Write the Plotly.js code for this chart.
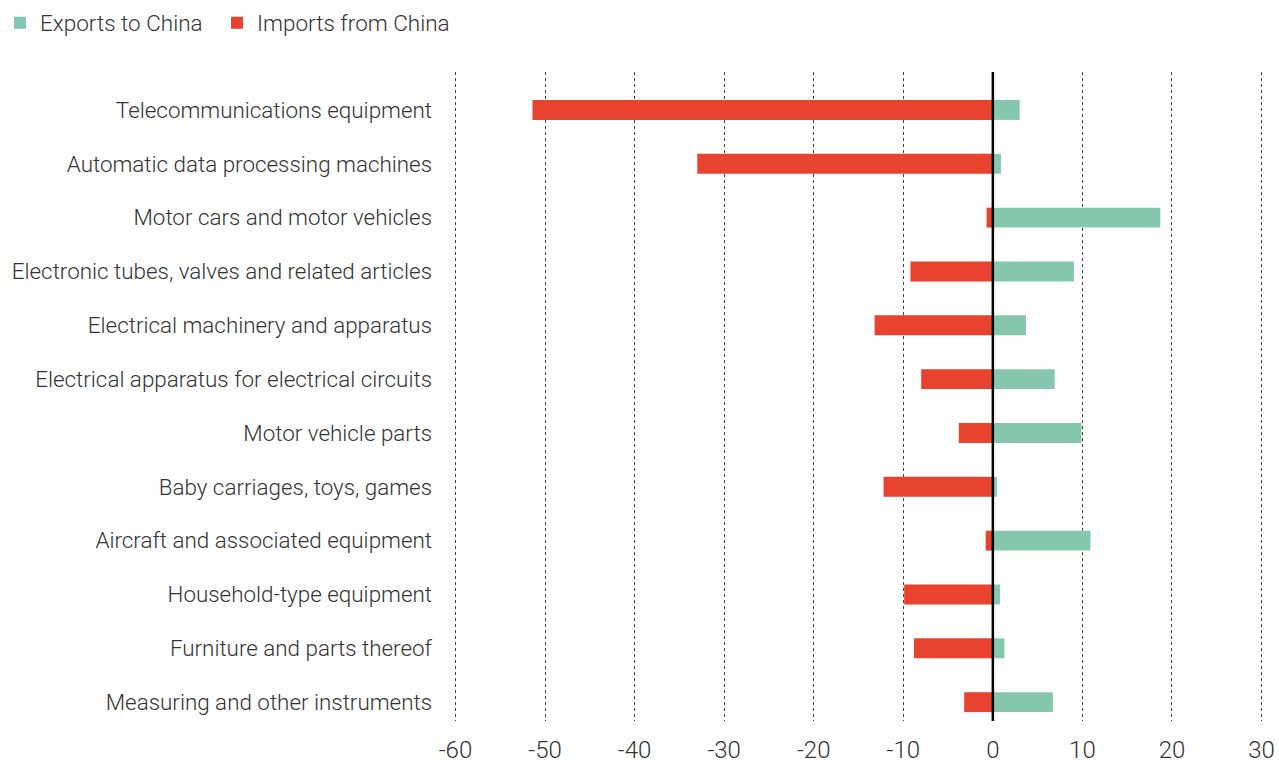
<!DOCTYPE html>
<html>
<head>
<meta charset="utf-8">
<script src="https://cdn.plot.ly/plotly-3.0.1.min.js"></script>
<style>html,body{margin:0;padding:0;background:#fff;}#chart{width:1279px;height:765px;}</style>
</head>
<body>
<div id="chart"></div>
<script>
const categories = [
  "Telecommunications equipment",
  "Automatic data processing machines",
  "Motor cars and motor vehicles",
  "Electronic tubes, valves and related articles",
  "Electrical machinery and apparatus",
  "Electrical apparatus for electrical circuits",
  "Motor vehicle parts",
  "Baby carriages, toys, games",
  "Aircraft and associated equipment",
  "Household-type equipment",
  "Furniture and parts thereof",
  "Measuring and other instruments"
];
const exportsToChina = [3.0, 0.9, 18.7, 9.05, 3.7, 6.9, 9.9, 0.45, 10.9, 0.8, 1.3, 6.7];
const importsFromChina = [-51.4, -33.0, -0.7, -9.2, -13.2, -8.0, -3.8, -12.2, -0.8, -9.9, -8.8, -3.2];
const xTicks = [-60, -50, -40, -30, -20, -10, 0, 10, 20, 30];

const FONT = "Roboto, 'DejaVu Sans', sans-serif";
const legendFont = {family: FONT, size: 22.5, color: "#333", weight: 300};
const traces = [
  {type: "bar", orientation: "h", name: "Exports to China", y: categories, x: exportsToChina,
   marker: {color: "#85C7AD"}, width: 0.37, hoverinfo: "x+y", legend: "legend"},
  {type: "bar", orientation: "h", name: "Imports from China", y: categories, x: importsFromChina,
   marker: {color: "#E8432E"}, width: 0.37, hoverinfo: "x+y", legend: "legend2"}
];
const layout = {
  width: 1279, height: 765,
  margin: {l: 451, r: 13, t: 72, b: 44, pad: 0},
  paper_bgcolor: "#fff", plot_bgcolor: "#fff",
  barmode: "overlay",
  font: {family: FONT, color: "#333", size: 22, weight: 300},
  showlegend: true,
  legend: {orientation: "h", xref: "container", yref: "container", x: -0.004, y: 0.998, xanchor: "left", yanchor: "top",
           font: legendFont, itemwidth: 30},
  legend2: {orientation: "h", xref: "container", yref: "container", x: 0.1697, y: 0.998, xanchor: "left", yanchor: "top",
           font: legendFont, itemwidth: 30},
  xaxis: {range: [-60.5, 30.5], tickvals: xTicks, ticktext: xTicks.map(String), showgrid: true, griddash: "dot",
          gridcolor: "#444", gridwidth: 1, zeroline: false, showline: false, ticks: "",
          ticklabelstandoff: 12,
          tickfont: {family: FONT, size: 24, color: "#333", weight: 300}, fixedrange: true},
  yaxis: {type: "category", range: [11.35, -0.705], showgrid: false, zeroline: false, showline: false, ticks: "",
          ticklabelstandoff: 18, tickfont: {family: FONT, size: 22.4, color: "#333", weight: 300}, fixedrange: true},
  shapes: [{type: "line", xref: "x", yref: "paper", x0: 0, x1: 0, y0: 0, y1: 1, line: {color: "#000", width: 2.5}, layer: "above"}]
};
Plotly.newPlot("chart", traces, layout, {displayModeBar: false, staticPlot: true});
</script>
</body>
</html>
